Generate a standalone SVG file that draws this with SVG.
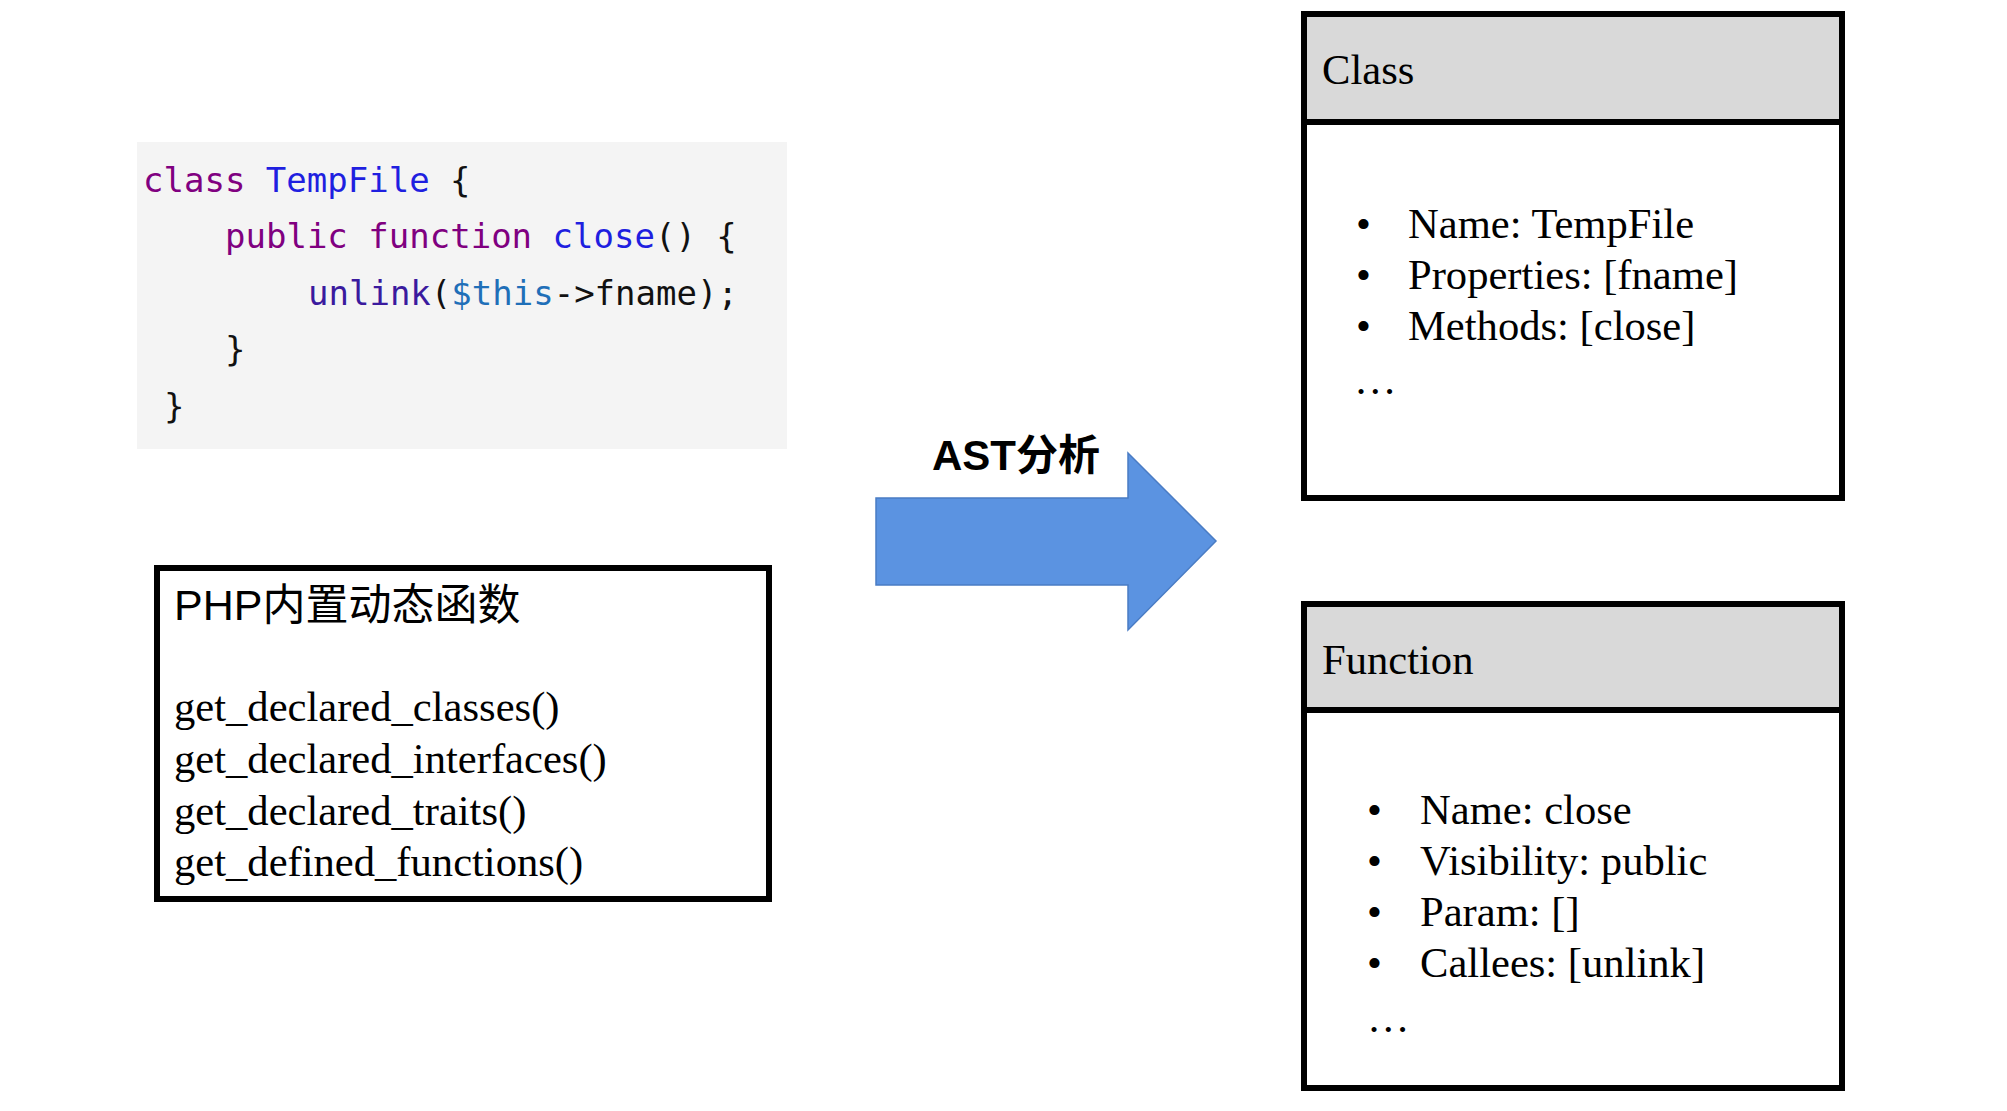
<svg xmlns="http://www.w3.org/2000/svg" width="2007" height="1111" viewBox="0 0 2007 1111">
<style>
.code{font-family:"DejaVu Sans Mono","Liberation Mono",monospace;font-size:34px;fill:#111}
.kw{fill:#800080}
.ty{fill:#1f1fe0}
.fn{fill:#3a1a9e}
.var{fill:#1f6fb8}
.serif{font-family:"Liberation Serif","Times New Roman",serif;font-size:42.6px;fill:#000}
.sans{font-family:"Liberation Sans",Arial,"Noto Sans CJK SC",sans-serif;fill:#000}
.box{fill:#fff;stroke:#000;stroke-width:6}
.hdr{fill:#d9d9d9;stroke:#000;stroke-width:6}
</style>
<rect width="2007" height="1111" fill="#fff"/>

<g id="code-snippet">
<rect x="137" y="142" width="650" height="307" fill="#f4f4f4"/>
<text class="code" x="143" y="192"><tspan class="kw">class</tspan> <tspan class="ty">TempFile</tspan> {</text>
<text class="code" x="225" y="248"><tspan class="kw">public</tspan> <tspan class="kw">function</tspan> <tspan class="ty">close</tspan>() {</text>
<text class="code" x="308" y="305"><tspan class="fn">unlink</tspan>(<tspan class="var">$this</tspan>-&gt;fname);</text>
<text class="code" x="225" y="361">}</text>
<text class="code" x="164" y="418">}</text>
</g>

<g id="php-builtins">
<rect class="box" x="157" y="568" width="612" height="331" stroke-width="5"/>
<text class="sans" x="174" y="620" font-size="43">PHP内置动态函数</text>
<text class="serif" font-size="44" x="174" y="721">get_declared_classes()</text>
<text class="serif" font-size="44" x="174" y="773">get_declared_interfaces()</text>
<text class="serif" font-size="44" x="174" y="825">get_declared_traits()</text>
<text class="serif" font-size="44" x="174" y="876">get_defined_functions()</text>
</g>

<g id="connectors">
<polygon points="876,498 1128,498 1128,453 1216,541 1128,630 1128,585 876,585" fill="#5b93e1" stroke="#4a7cc4" stroke-width="1.5"/>
<text class="sans" x="932" y="470" font-size="42" font-weight="bold">AST分析</text>
</g>

<g id="class-node">
<rect class="box" x="1304" y="14" width="538" height="484"/>
<rect class="hdr" x="1304" y="14" width="538" height="108"/>
<text class="serif" x="1322" y="84">Class</text>
<text class="serif" x="1356" y="238">•</text>
<text class="serif" x="1408" y="238">Name: TempFile</text>
<text class="serif" x="1356" y="289">•</text>
<text class="serif" x="1408" y="289">Properties: [fname]</text>
<text class="serif" x="1356" y="340">•</text>
<text class="serif" x="1408" y="340">Methods: [close]</text>
<text class="serif" x="1354" y="394">…</text>
</g>

<g id="function-node">
<rect class="box" x="1304" y="604" width="538" height="484"/>
<rect class="hdr" x="1304" y="604" width="538" height="106"/>
<text class="serif" x="1322" y="674">Function</text>
<text class="serif" x="1367" y="824">•</text>
<text class="serif" x="1420" y="824">Name: close</text>
<text class="serif" x="1367" y="875">•</text>
<text class="serif" x="1420" y="875">Visibility: public</text>
<text class="serif" x="1367" y="926">•</text>
<text class="serif" x="1420" y="926">Param: []</text>
<text class="serif" x="1367" y="977">•</text>
<text class="serif" x="1420" y="977">Callees: [unlink]</text>
<text class="serif" x="1367" y="1032">…</text>
</g>
</svg>
